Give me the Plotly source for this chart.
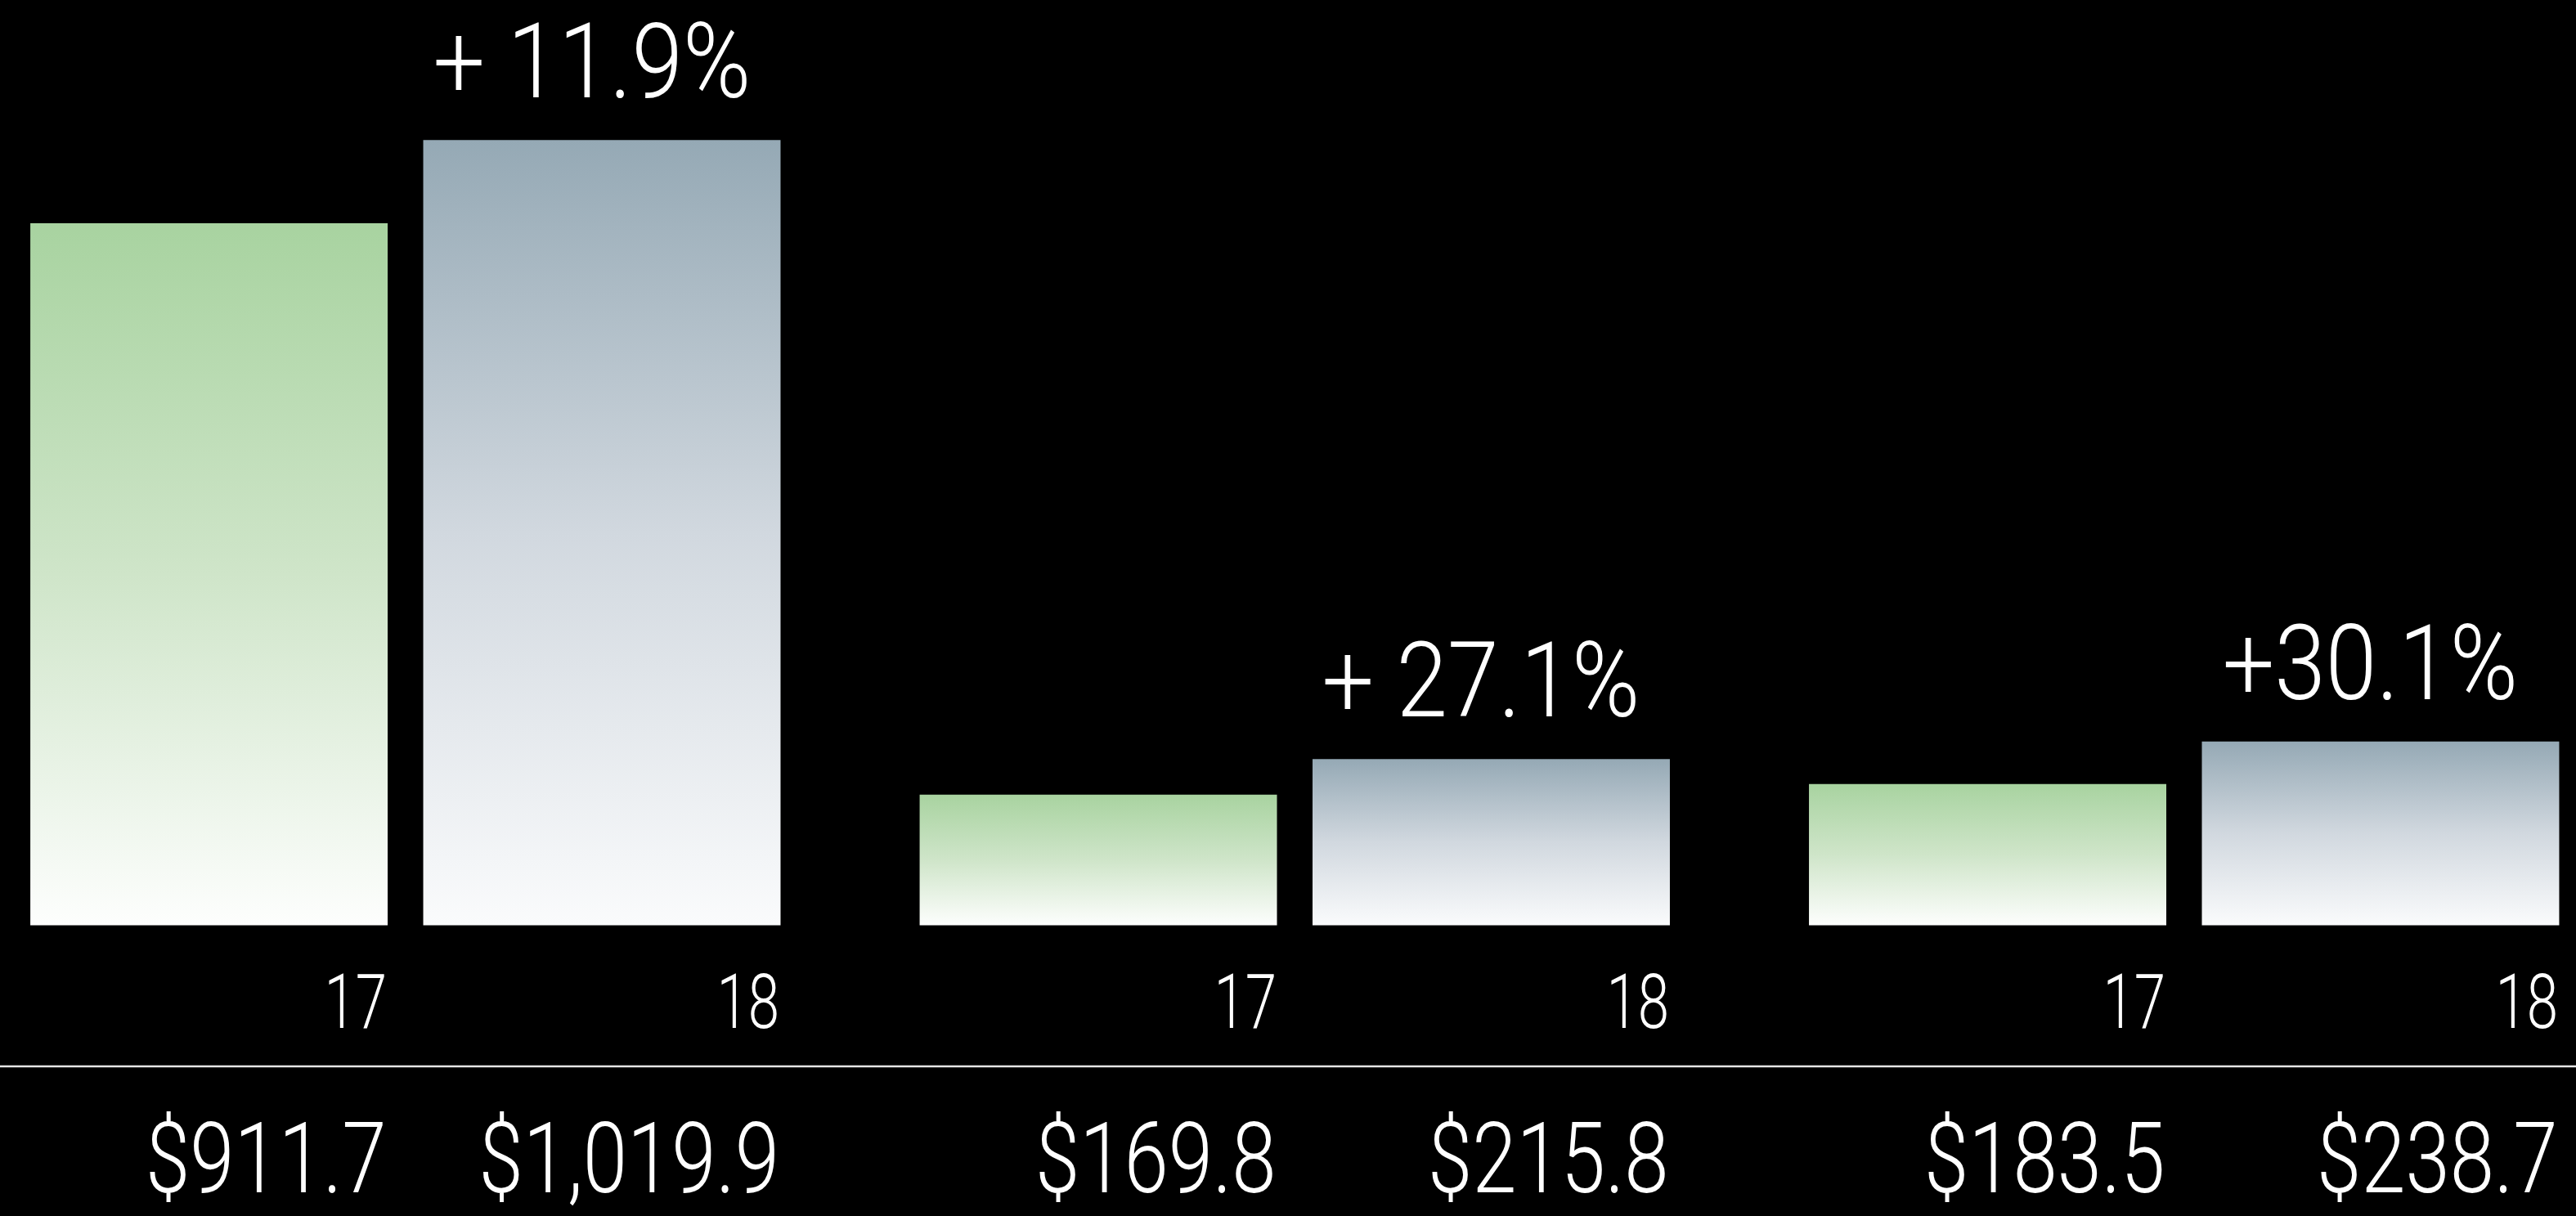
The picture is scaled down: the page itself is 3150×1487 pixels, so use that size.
import json
import plotly.graph_objects as go

# ---------------- data ----------------
groups = [0, 1, 2]                      # three unnamed segments
year_labels = ["17", "18"]
values_17 = [911.7, 169.8, 183.5]
values_18 = [1019.9, 215.8, 238.7]
growth_labels = ["+ 11.9%", "+ 27.1%", "+30.1%"]

# ---------------- styles ----------------
W, H = 3150, 1487
FONT = "Roboto, Lato, Inter, sans-serif"
GREEN_SCALE = [[0, "#fdfefd"], [0.5, "#cfe5c9"], [1, "#a8d3a0"]]
GRAY_SCALE = [[0, "#fafbfc"], [0.5, "#d1d8df"], [1, "#95a9b5"]]
BAR_W = 0.4018
BAR_OFF = 0.4418
X_RANGE = [-0.4559, 2.4407]
Y_RANGE = [-377.5, 1201.7]
YEAR_SIZE, VALUE_SIZE, GROWTH_SIZE = 92, 120, 128
# horizontal condensing of the typeface, per text size
SQUEEZE = {str(YEAR_SIZE): 0.75, str(VALUE_SIZE): 0.815, str(GROWTH_SIZE): 0.88}


def paper_y(px):
    return 1 - px / H


fig = go.Figure()
annotations = []

series = [(values_17, GREEN_SCALE, -0.5), (values_18, GRAY_SCALE, 0.5)]
for j, (vals, scale, side) in enumerate(series):
    for g, v in zip(groups, vals):
        xc = g + side * BAR_OFF
        xl, xr = xc - BAR_W / 2, xc + BAR_W / 2
        fig.add_trace(go.Scatter(
            x=[xl, xr, xr, xl, xl],
            y=[0, 0, v, v, 0],
            mode="lines",
            fill="toself",
            line=dict(width=0),
            fillgradient=dict(type="vertical", colorscale=scale, start=0, stop=v),
            hoverinfo="skip",
            showlegend=False,
        ))
        # year label under bar
        annotations.append(dict(
            x=xr, y=paper_y(1225), xref="x", yref="paper",
            xanchor="right", yanchor="middle", align="right", showarrow=False,
            borderpad=0,
            text=year_labels[j],
            font=dict(family=FONT, size=YEAR_SIZE, color="white", weight=300),
        ))
        # dollar value label
        annotations.append(dict(
            x=xr, y=paper_y(1417), xref="x", yref="paper",
            xanchor="right", yanchor="middle", align="right",
            showarrow=False, borderpad=0,
            text=f"${v:,.1f}",
            font=dict(family=FONT, size=VALUE_SIZE, color="white", weight=300),
        ))

# growth labels above the 18 bars
for g, v, lab in zip(groups, values_18, growth_labels):
    annotations.append(dict(
        x=g + 0.5 * BAR_OFF, y=v, xref="x", yref="y",
        xanchor="center", yanchor="middle", align="center",
        yshift=96, xshift=-12, borderpad=0,
        showarrow=False, text=lab,
        font=dict(family=FONT, size=GROWTH_SIZE, color="white", weight=300),
    ))

fig.update_layout(
    width=W, height=H,
    margin=dict(l=0, r=0, t=0, b=0),
    paper_bgcolor="black", plot_bgcolor="black",
    xaxis=dict(range=X_RANGE, visible=False, fixedrange=True),
    yaxis=dict(range=Y_RANGE, visible=False, fixedrange=True),
    annotations=annotations,
    shapes=[dict(type="line", xref="paper", yref="paper",
                 x0=0, x1=1, y0=paper_y(1304), y1=paper_y(1304),
                 line=dict(color="#e6e6e6", width=2.5))],
)

squeeze_js = """
document.body.style.margin = '0';
document.body.style.overflow = 'hidden';
var SQ = SQUEEZE_MAP;
document.querySelectorAll('text.annotation-text').forEach(function (t) {
  var a = t.getAttribute('text-anchor');
  var ox = a === 'end' ? '100%' : (a === 'start' ? '0%' : '50%');
  var fs = String(Math.round(parseFloat(t.style.fontSize)));
  var k = SQ[fs] || 0.78;
  t.style.transformBox = 'fill-box';
  t.style.transformOrigin = ox + ' 50%';
  t.style.transform = 'scaleX(' + k + ')';
});
""".replace("SQUEEZE_MAP", json.dumps(SQUEEZE))

fig.write_html(
    "out.html",
    config=dict(displayModeBar=False, staticPlot=True),
    post_script=squeeze_js,
)
